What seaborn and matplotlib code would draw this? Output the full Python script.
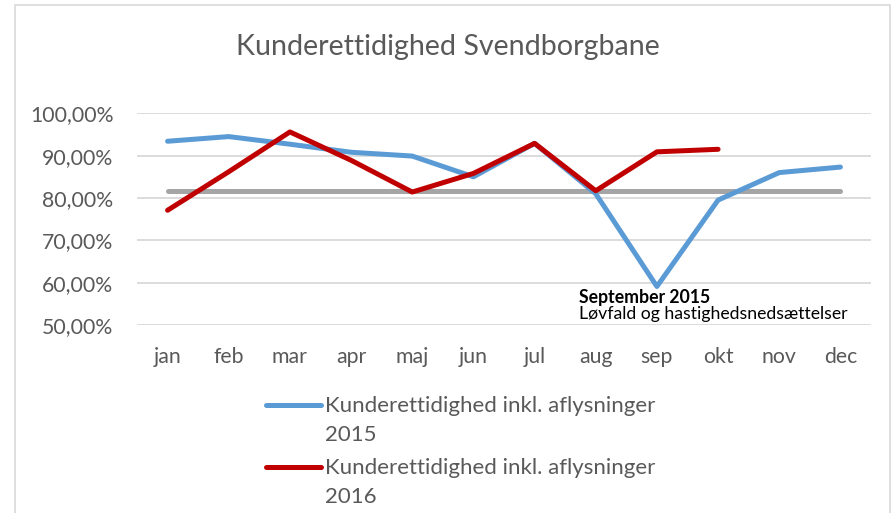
import matplotlib
matplotlib.use("Agg")
import matplotlib.pyplot as plt
from matplotlib.ticker import FuncFormatter, FixedLocator
from matplotlib.patches import Rectangle
from matplotlib.legend_handler import HandlerLine2D
import seaborn as sns
import pandas as pd
import numpy as np

months = ["jan", "feb", "mar", "apr", "maj", "jun", "jul", "aug", "sep", "okt", "nov", "dec"]
vals_2015 = [93.4, 94.5, 92.7, 90.8, 89.9, 85.0, 92.9, 81.0, 59.1, 79.5, 86.0, 87.3]
vals_2016 = [77.1, 86.2, 95.6, 88.9, 81.4, 85.8, 92.9, 81.7, 90.9, 91.5]
target = [81.7, 81.7, 81.7, 81.7, 81.7, 81.7, 81.7, 81.7, 81.7, 81.7, 81.7, 81.7]
yticks = [50, 60, 70, 80, 90, 100]
label_2015 = "Kunderettidighed inkl. aflysninger\n2015"
label_2016 = "Kunderettidighed inkl. aflysninger\n2016"
title = "Kunderettidighed Svendborgbane"
note_title = "September 2015"
note_text = "Løvfald og hastighedsnedsættelser"

sns.set_theme(style="white")
plt.rcParams["font.family"] = ["Lato", "DejaVu Sans"]

TXT = "#595959"
BLUE = "#5B9BD5"
RED = "#C00000"
GRAY = "#A5A5A5"
GRID = "#D9D9D9"


class TopHandler(HandlerLine2D):
    def __init__(self, offset=0.0, **kw):
        super().__init__(**kw)
        self.offset = offset

    def create_artists(self, legend, orig_handle, xdescent, ydescent, width, height, fontsize, trans):
        arts = super().create_artists(legend, orig_handle, xdescent, ydescent, width, height, fontsize, trans)
        for a in arts:
            y = np.asarray(a.get_ydata(), dtype=float)
            a.set_ydata(y + self.offset)
            a.set_solid_capstyle("round")
        return arts


fig = plt.figure(figsize=(8.95, 5.13), dpi=100)
W, H = 895, 513
ax = fig.add_axes([137 / W, 1 - 325 / H, (871 - 137) / W, (325 - 113.3) / H])

df15 = pd.DataFrame({"x": np.arange(len(vals_2015)), "y": vals_2015})
df16 = pd.DataFrame({"x": np.arange(len(vals_2016)), "y": vals_2016})
dft = pd.DataFrame({"x": np.arange(len(target)), "y": target})

lw = 3.6
sns.lineplot(data=dft, x="x", y="y", ax=ax, color=GRAY, linewidth=lw, solid_capstyle="round")
sns.lineplot(data=df15, x="x", y="y", ax=ax, color=BLUE, linewidth=lw, solid_capstyle="round",
             label=label_2015)
sns.lineplot(data=df16, x="x", y="y", ax=ax, color=RED, linewidth=lw, solid_capstyle="round",
             label=label_2016)

ax.set_xlim(-0.5, len(months) - 0.5)
ax.set_ylim(50, 100)
ax.yaxis.set_major_locator(FixedLocator(yticks))
ax.yaxis.set_major_formatter(FuncFormatter(lambda v, p: f"{v:.2f}".replace(".", ",") + "%"))
ax.set_xticks(np.arange(len(months)))
ax.set_xticklabels(months)
ax.set_xlabel("")
ax.set_ylabel("")
ax.grid(axis="y", color=GRID, linewidth=1.3)
ax.set_axisbelow(True)
for s in ax.spines.values():
    s.set_visible(False)
ax.tick_params(axis="y", length=0, pad=17, labelsize=15.3, labelcolor=TXT)
ax.tick_params(axis="x", length=0, pad=16, labelsize=15.3, labelcolor=TXT)

ax.text(6.72, 56.6, note_title, fontsize=12.7, fontweight="bold", color="black", va="center", ha="left")
ax.text(6.72, 52.6, note_text, fontsize=12.7, color="black", va="center", ha="left")

ax.get_legend().remove()
handles, labels = ax.get_legend_handles_labels()
leg = fig.legend(handles, labels, loc="upper left", bbox_to_anchor=(266 / W, 1 - 396 / H),
                 frameon=False, fontsize=16, labelcolor=TXT, handlelength=2.48, handletextpad=0.18,
                 labelspacing=0.6, borderpad=0, borderaxespad=0,
                 handler_map={h: TopHandler(offset=11) for h in handles})
for t in leg.get_texts():
    t.set_linespacing(1.55)

fig.text(448 / W, 1 - 47 / H, title, fontsize=20.6, color=TXT, ha="center", va="center")

fig.patches.append(Rectangle((15 / W, -0.05), (890 - 15) / W, 1 - 5 / H + 0.05,
                             transform=fig.transFigure, fill=False, edgecolor=GRID, linewidth=1.2))

fig.savefig("out.png", dpi=100)
